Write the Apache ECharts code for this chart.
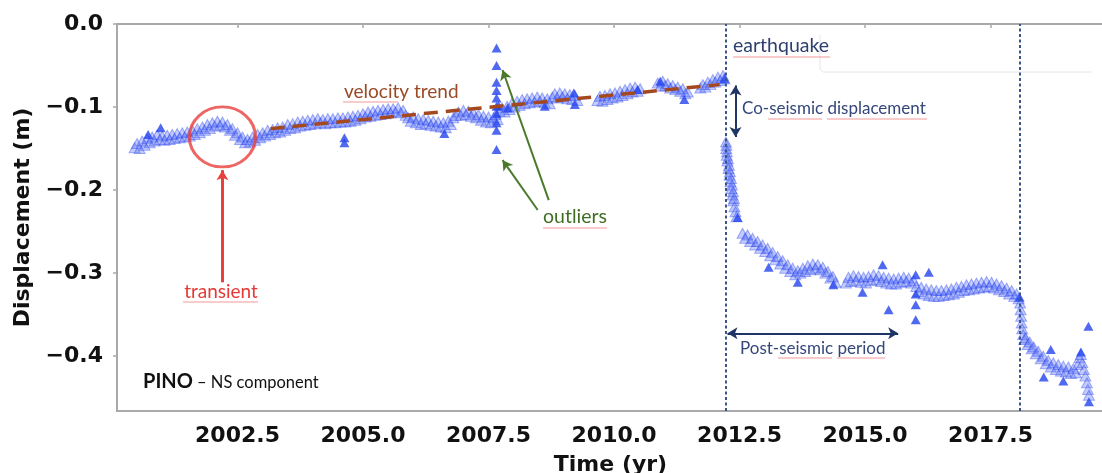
<!DOCTYPE html>
<html>
<head>
<meta charset="utf-8">
<script src="https://cdn.jsdelivr.net/npm/echarts@6/dist/echarts.min.js"></script>
<style>
  html, body { margin: 0; padding: 0; background: #ffffff; }
  #chart { width: 1102px; height: 473px; }
</style>
</head>
<body>
<div id="chart"></div>
<script>
// PINO GNSS station, north-south displacement (m) versus decimal year
const xTicks = [2002.5, 2005.0, 2007.5, 2010.0, 2012.5, 2015.0, 2017.5];
const yTicks = [0, -0.1, -0.2, -0.3, -0.4];
const eventEpochs = [2012.22, 2018.08];
const velocityTrend = [[2003.16, -0.126], [2012.10, -0.073]];
const transientCenter = [[2002.20, -0.136]];

// daily solutions, 2000.45 - 2002.9 (includes the transient)
const seg2000 = [[2000.45,-0.149],[2000.50,-0.144],[2000.55,-0.150],[2000.60,-0.141],[2000.65,-0.146],[2000.70,-0.138],[2000.75,-0.143],[2000.80,-0.136],[2000.85,-0.141],[2000.90,-0.133],[2000.95,-0.139],[2001.00,-0.135],[2001.05,-0.140],[2001.10,-0.134],[2001.15,-0.139],[2001.20,-0.133],[2001.25,-0.138],[2001.30,-0.132],[2001.35,-0.137],[2001.40,-0.131],[2001.45,-0.136],[2001.50,-0.130],[2001.55,-0.135],[2001.60,-0.128],[2001.65,-0.133],[2001.70,-0.126],[2001.75,-0.131],[2001.80,-0.124],[2001.85,-0.128],[2001.90,-0.121],[2001.95,-0.126],[2002.00,-0.119],[2002.05,-0.123],[2002.10,-0.117],[2002.15,-0.122],[2002.20,-0.118],[2002.25,-0.124],[2002.30,-0.121],[2002.35,-0.128],[2002.40,-0.126],[2002.45,-0.134],[2002.50,-0.131],[2002.55,-0.139],[2002.60,-0.136],[2002.65,-0.143],[2002.70,-0.139],[2002.75,-0.142],[2002.80,-0.136],[2002.85,-0.140],[2002.90,-0.133]];

// 2002.95 - 2005.85
const seg2003 = [[2002.95,-0.137],[2003.00,-0.131],[2003.05,-0.135],[2003.10,-0.128],[2003.15,-0.133],[2003.20,-0.127],[2003.25,-0.131],[2003.30,-0.125],[2003.35,-0.130],[2003.40,-0.124],[2003.45,-0.128],[2003.50,-0.121],[2003.55,-0.126],[2003.60,-0.120],[2003.65,-0.125],[2003.70,-0.118],[2003.75,-0.123],[2003.80,-0.117],[2003.85,-0.122],[2003.90,-0.116],[2003.95,-0.121],[2004.00,-0.115],[2004.05,-0.120],[2004.10,-0.114],[2004.15,-0.119],[2004.20,-0.115],[2004.25,-0.120],[2004.30,-0.114],[2004.35,-0.119],[2004.40,-0.114],[2004.45,-0.119],[2004.50,-0.113],[2004.55,-0.118],[2004.60,-0.113],[2004.65,-0.118],[2004.70,-0.112],[2004.75,-0.117],[2004.80,-0.111],[2004.85,-0.116],[2004.90,-0.110],[2004.95,-0.114],[2005.00,-0.108],[2005.05,-0.112],[2005.10,-0.106],[2005.15,-0.111],[2005.20,-0.105],[2005.25,-0.110],[2005.30,-0.104],[2005.35,-0.109],[2005.40,-0.103],[2005.45,-0.108],[2005.50,-0.102],[2005.55,-0.107],[2005.60,-0.102],[2005.65,-0.106],[2005.70,-0.101],[2005.75,-0.107],[2005.80,-0.104],[2005.85,-0.110]];

// 2005.9 - 2007.7
const seg2006 = [[2005.90,-0.113],[2005.95,-0.117],[2006.00,-0.112],[2006.05,-0.119],[2006.10,-0.114],[2006.15,-0.121],[2006.20,-0.115],[2006.25,-0.120],[2006.30,-0.116],[2006.35,-0.122],[2006.40,-0.117],[2006.45,-0.123],[2006.50,-0.118],[2006.55,-0.124],[2006.60,-0.119],[2006.65,-0.125],[2006.70,-0.117],[2006.75,-0.121],[2006.80,-0.113],[2006.85,-0.110],[2006.90,-0.106],[2006.95,-0.110],[2007.00,-0.104],[2007.05,-0.109],[2007.10,-0.105],[2007.15,-0.111],[2007.20,-0.107],[2007.25,-0.113],[2007.30,-0.109],[2007.35,-0.116],[2007.40,-0.111],[2007.45,-0.118],[2007.50,-0.112],[2007.55,-0.119],[2007.60,-0.113],[2007.64,-0.109],[2007.68,-0.115]];

// 2007.72 - 2009.27
const seg2008 = [[2007.72,-0.105],[2007.77,-0.101],[2007.82,-0.106],[2007.87,-0.099],[2007.92,-0.103],[2007.97,-0.095],[2008.02,-0.100],[2008.07,-0.093],[2008.12,-0.098],[2008.17,-0.091],[2008.22,-0.096],[2008.27,-0.090],[2008.32,-0.095],[2008.37,-0.089],[2008.42,-0.094],[2008.47,-0.088],[2008.52,-0.093],[2008.57,-0.089],[2008.62,-0.095],[2008.67,-0.090],[2008.72,-0.096],[2008.77,-0.088],[2008.82,-0.084],[2008.87,-0.089],[2008.92,-0.083],[2008.97,-0.088],[2009.02,-0.084],[2009.07,-0.090],[2009.12,-0.085],[2009.17,-0.091],[2009.22,-0.086],[2009.27,-0.092]];

// 2009.67 - 2012.20
const seg2010 = [[2009.67,-0.092],[2009.72,-0.087],[2009.77,-0.093],[2009.82,-0.086],[2009.87,-0.091],[2009.92,-0.084],[2009.97,-0.089],[2010.02,-0.083],[2010.07,-0.088],[2010.12,-0.081],[2010.17,-0.086],[2010.22,-0.079],[2010.27,-0.084],[2010.32,-0.077],[2010.37,-0.082],[2010.42,-0.076],[2010.47,-0.081],[2010.52,-0.078],
  [2010.87,-0.071],[2010.92,-0.075],[2010.97,-0.069],[2011.02,-0.074],[2011.07,-0.072],[2011.12,-0.077],[2011.17,-0.074],[2011.22,-0.079],[2011.27,-0.076],[2011.32,-0.081],[2011.37,-0.078],[2011.42,-0.084],[2011.47,-0.082],
  [2011.72,-0.077],[2011.77,-0.073],[2011.82,-0.076],[2011.87,-0.070],[2011.92,-0.073],[2011.97,-0.067],[2012.02,-0.070],[2012.07,-0.064],[2012.12,-0.068],[2012.17,-0.062],[2012.20,-0.066]];

// co-seismic step and early post-seismic decay
const seg2012 = [[2012.23,-0.142],[2012.235,-0.150],[2012.24,-0.146],[2012.245,-0.158],[2012.25,-0.154],[2012.26,-0.165],[2012.27,-0.162],[2012.28,-0.174],[2012.29,-0.170],[2012.30,-0.182],[2012.31,-0.178],[2012.32,-0.190],[2012.33,-0.186],[2012.34,-0.198],[2012.35,-0.194],[2012.36,-0.206],[2012.37,-0.202],[2012.38,-0.213],[2012.39,-0.210],[2012.40,-0.220],[2012.42,-0.226],[2012.44,-0.232],
  [2012.56,-0.252],[2012.61,-0.258],[2012.66,-0.254],[2012.71,-0.262],[2012.76,-0.258],[2012.81,-0.266],[2012.86,-0.262],[2012.91,-0.270],[2012.96,-0.266],[2013.01,-0.274],[2013.06,-0.270],[2013.11,-0.279],[2013.16,-0.275],[2013.21,-0.284],[2013.26,-0.280],[2013.31,-0.289],[2013.36,-0.285],[2013.41,-0.294],[2013.46,-0.290],[2013.51,-0.298],[2013.56,-0.294],[2013.61,-0.302],[2013.66,-0.297],[2013.71,-0.300],[2013.76,-0.294],[2013.81,-0.298],[2013.86,-0.291],[2013.91,-0.296],[2013.96,-0.289],[2014.01,-0.294],[2014.06,-0.290],[2014.11,-0.296],[2014.16,-0.293],[2014.21,-0.300],[2014.26,-0.298],[2014.31,-0.306],[2014.36,-0.304],[2014.41,-0.311]];

// 2014.62 - 2018.06
const seg2015 = [[2014.62,-0.312],[2014.67,-0.305],[2014.72,-0.310],[2014.77,-0.303],[2014.82,-0.309],[2014.87,-0.304],[2014.92,-0.311],[2014.97,-0.305],[2015.02,-0.312],[2015.07,-0.304],[2015.12,-0.309],[2015.17,-0.302],[2015.22,-0.308],[2015.27,-0.303],[2015.32,-0.310],[2015.37,-0.305],[2015.42,-0.312],[2015.47,-0.306],[2015.52,-0.313],[2015.57,-0.307],[2015.62,-0.313],[2015.67,-0.306],[2015.72,-0.311],[2015.77,-0.305],[2015.82,-0.310],[2015.87,-0.306],[2015.92,-0.312],[2015.97,-0.309],
  [2016.02,-0.316],[2016.07,-0.322],[2016.12,-0.317],[2016.17,-0.325],[2016.22,-0.319],[2016.27,-0.327],[2016.32,-0.320],[2016.37,-0.328],[2016.42,-0.321],[2016.47,-0.328],[2016.52,-0.321],[2016.57,-0.327],[2016.62,-0.320],[2016.67,-0.326],[2016.72,-0.319],[2016.77,-0.325],[2016.82,-0.317],[2016.87,-0.323],[2016.92,-0.316],[2016.97,-0.321],[2017.02,-0.314],[2017.07,-0.320],[2017.12,-0.313],[2017.17,-0.319],[2017.22,-0.312],[2017.27,-0.318],[2017.32,-0.311],[2017.37,-0.317],[2017.42,-0.310],[2017.47,-0.316],[2017.52,-0.311],[2017.57,-0.318],[2017.62,-0.313],[2017.67,-0.320],[2017.72,-0.315],[2017.77,-0.322],[2017.82,-0.318],[2017.87,-0.325],[2017.92,-0.321],[2017.97,-0.328],[2018.02,-0.325],[2018.06,-0.331]];

// after the 2018 offset
const seg2018 = [[2018.09,-0.336],[2018.10,-0.344],[2018.11,-0.352],[2018.12,-0.360],[2018.13,-0.367],[2018.15,-0.374],[2018.17,-0.380],[2018.20,-0.378],[2018.24,-0.386],[2018.28,-0.383],[2018.32,-0.391],[2018.36,-0.389],[2018.40,-0.397],[2018.45,-0.394],[2018.50,-0.403],[2018.55,-0.400],[2018.60,-0.409],[2018.65,-0.405],[2018.70,-0.413],[2018.75,-0.408],[2018.80,-0.416],[2018.85,-0.410],[2018.90,-0.418],[2018.95,-0.412],[2019.00,-0.419],[2019.05,-0.413],[2019.10,-0.421],[2019.15,-0.415],[2019.20,-0.420],[2019.24,-0.410],[2019.27,-0.402],[2019.30,-0.398],[2019.33,-0.408],[2019.36,-0.416],[2019.39,-0.424],[2019.42,-0.432],[2019.44,-0.440],[2019.46,-0.447]];

// isolated solutions away from the main cloud
const isolated = [[2000.72,-0.133],[2000.97,-0.125],[2004.63,-0.137],[2004.63,-0.143],[2006.62,-0.132],[2007.66,-0.029],[2007.66,-0.050],[2007.66,-0.070],[2007.66,-0.080],[2007.66,-0.089],[2007.66,-0.099],[2007.66,-0.108],[2007.66,-0.119],[2007.66,-0.128],[2007.66,-0.151],[2007.70,-0.098],[2007.88,-0.101],[2008.62,-0.099],[2009.20,-0.083],[2009.22,-0.097],[2010.47,-0.079],[2010.92,-0.069],[2011.40,-0.091],[2012.20,-0.066],[2012.46,-0.233],[2013.08,-0.293],[2013.66,-0.311],[2014.37,-0.314],[2014.95,-0.323],[2015.35,-0.290],[2015.47,-0.344],[2016.01,-0.302],[2016.01,-0.325],[2016.01,-0.338],[2016.01,-0.356],[2016.27,-0.299],[2018.08,-0.329],[2018.56,-0.425],[2018.70,-0.392],[2018.95,-0.430],[2019.30,-0.395],[2019.45,-0.364],[2019.46,-0.455]];

const cloud = [].concat(seg2000, seg2003, seg2006, seg2008, seg2010, seg2012, seg2015, seg2018);

const AXIS_GREY = '#a9a9a9';
const NAVY = '#2d3f6e';
const tickFont = { fontFamily: 'DejaVu Sans', fontWeight: 'bold', fontSize: 22, color: '#111' };
const noteFont = 'Lato';

function minus(v) { return v === 0 ? '0.0' : '\u2212' + Math.abs(v).toFixed(1); }

function arrowLine(a, b, color, width, startSym, endSym) {
  return [
    { coord: a, symbol: startSym, symbolSize: [9, 10] },
    { coord: b, symbol: endSym, symbolSize: [9, 10], lineStyle: { color: color, width: width, type: 'solid' } }
  ];
}

function note(text, x, y, color, size, align) {
  return { type: 'text', silent: true, z: 50,
    style: { text: text, x: x, y: y, fill: color, font: size + 'px ' + noteFont,
      textAlign: align || 'left', textVerticalAlign: 'middle', align: align || 'left', verticalAlign: 'middle' } };
}
function squiggle(x1, x2, y) {
  return { type: 'line', silent: true, z: 49,
    shape: { x1: x1, y1: y, x2: x2, y2: y },
    style: { stroke: 'rgba(236,96,96,0.65)', lineWidth: 1.2 } };
}

const chart = echarts.init(document.getElementById('chart'), null, { renderer: 'canvas' });
chart.setOption({
  animation: false,
  backgroundColor: '#ffffff',
  grid: { left: 117, right: -2, top: 24, bottom: 62, containLabel: false, outerBoundsMode: 'none',
    show: true, borderColor: AXIS_GREY, borderWidth: 2, backgroundColor: 'transparent' },
  xAxis: {
    type: 'value', min: 2000.1, max: 2019.76,
    name: 'Time (yr)', nameLocation: 'middle', nameGap: 43,
    nameTextStyle: { fontFamily: 'DejaVu Sans', fontWeight: 'bold', fontSize: 22, color: '#111' },
    axisLine: { show: true, lineStyle: { color: AXIS_GREY, width: 2 } },
    axisTick: { show: true, length: 4, lineStyle: { color: AXIS_GREY, width: 1.5 }, customValues: xTicks },
    axisLabel: Object.assign({ margin: 14, customValues: xTicks, formatter: v => v.toFixed(1) }, tickFont),
    splitLine: { show: false }
  },
  yAxis: {
    type: 'value', min: -0.466, max: 0,
    name: 'Displacement (m)', nameLocation: 'middle', nameGap: 80,
    nameTextStyle: { fontFamily: 'DejaVu Sans', fontWeight: 'bold', fontSize: 22, color: '#111' },
    axisLine: { show: true, lineStyle: { color: AXIS_GREY, width: 2 } },
    axisTick: { show: true, length: 4, lineStyle: { color: AXIS_GREY, width: 1.5 }, customValues: yTicks },
    axisLabel: Object.assign({ margin: 14, customValues: yTicks, formatter: minus }, tickFont),
    splitLine: { show: false }
  },
  series: [
    {
      name: 'cloud', type: 'scatter', data: cloud, symbol: 'triangle', symbolSize: [11, 10],
      itemStyle: { color: 'rgba(100,122,246,0.48)', borderColor: 'rgba(40,64,236,0.5)', borderWidth: 1 },
      silent: true, z: 3
    },
    {
      name: 'isolated', type: 'scatter', data: isolated, symbol: 'triangle', symbolSize: [10, 9],
      itemStyle: { color: '#2444ee' }, silent: true, z: 4
    },
    {
      name: 'velocity trend', type: 'line', data: velocityTrend, symbol: 'none', silent: true, z: 5,
      lineStyle: { color: '#a4491f', width: 3.5, type: [14, 8] }
    },
    {
      name: 'transient', type: 'scatter', data: transientCenter, symbol: 'circle', symbolSize: [66, 60],
      itemStyle: { color: 'rgba(0,0,0,0)', borderColor: '#e8403c', borderWidth: 3 }, silent: true, z: 6
    },
    {
      name: 'events', type: 'line', data: [], silent: true,
      markLine: {
        silent: true, symbol: 'none', label: { show: false },
        lineStyle: { color: '#3a5586', width: 2, type: [3, 2.5] },
        data: eventEpochs.map(t => ({ xAxis: t }))
      }
    },
    {
      name: 'annotations', type: 'line', data: [], silent: true, z: 7,
      markLine: {
        silent: true, label: { show: false }, lineStyle: { type: 'solid' },
        data: [
          arrowLine([2012.42, -0.074], [2012.42, -0.136], '#1f3566', 2, 'arrow', 'arrow'),
          arrowLine([2012.26, -0.3725], [2015.66, -0.3725], '#1f3566', 2, 'arrow', 'arrow'),
          arrowLine([2002.20, -0.311], [2002.20, -0.176], '#e8403c', 3, 'none', 'arrow'),
          arrowLine([2008.70, -0.212], [2007.78, -0.0554], '#4a7a2c', 2, 'none', 'arrow'),
          arrowLine([2008.48, -0.224], [2007.78, -0.164], '#4a7a2c', 2, 'none', 'arrow')
        ]
      }
    }
  ],
  graphic: [
    { type: 'polyline', silent: true, z: 1,
      shape: { points: [[820, 35], [820, 69], [823, 72], [1092, 72]] },
      style: { stroke: '#e6e6e6', lineWidth: 1, fill: null } },
    note('earthquake', 733, 46, NAVY, 19.5),
    squiggle(733, 830, 57),
    note('Co-seismic displacement', 742, 109, '#34477a', 17),
    squiggle(768, 822, 119), squiggle(827, 927, 119),
    note('Post-seismic period', 740, 349, '#34477a', 17),
    squiggle(778, 832, 358), squiggle(837, 885, 358),
    note('velocity trend', 344, 92, '#9a4a26', 19),
    squiggle(343, 398, 102),
    note('transient', 221, 292, '#e53935', 19, 'center'),
    squiggle(183, 258, 302),
    note('outliers', 543, 217, '#3f6e22', 19.5),
    squiggle(543, 607, 228),
    { type: 'text', silent: true, z: 50,
      style: { text: 'PINO', x: 143, y: 382, fill: '#111', font: 'bold 20px ' + noteFont,
        textVerticalAlign: 'middle', verticalAlign: 'middle' } },
    note('\u2013 NS component', 197, 383, '#111', 16.5)
  ]
});
</script>
</body>
</html>
